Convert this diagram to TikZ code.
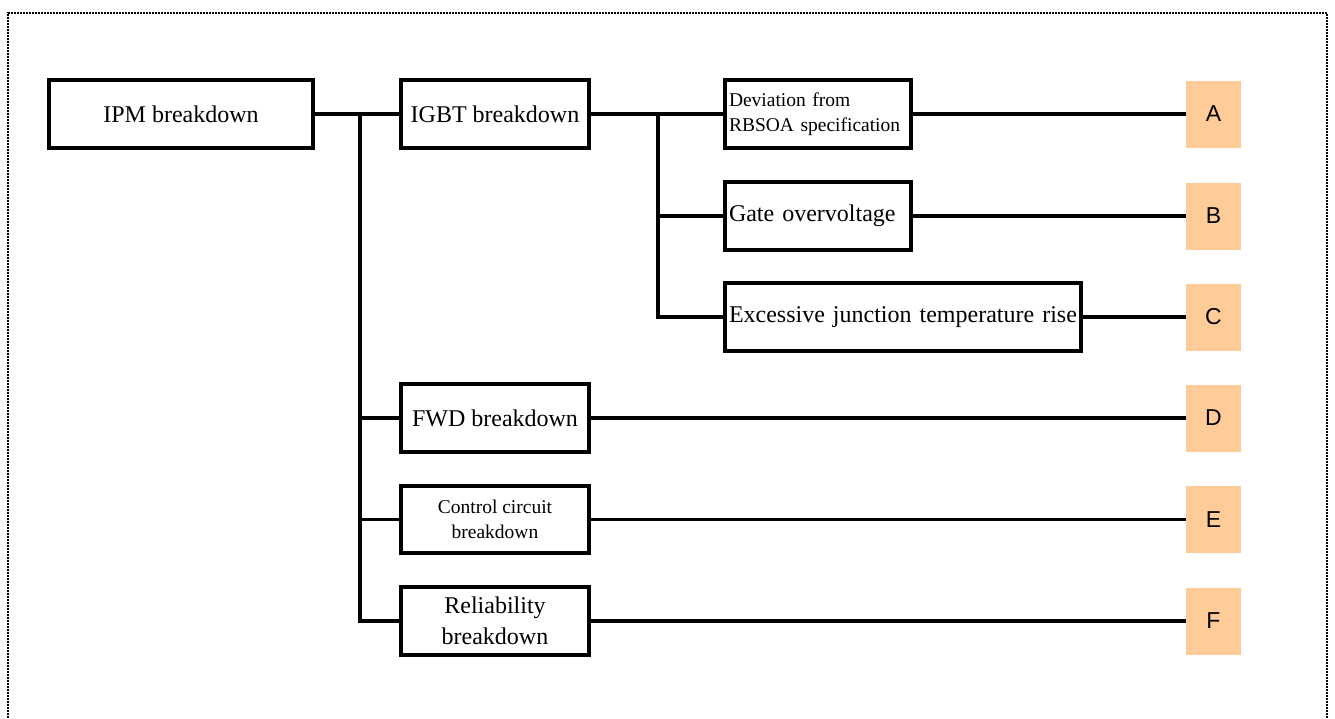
\documentclass[tikz,border=0pt]{standalone}
\usepackage{fontspec}
\setmainfont{Liberation Serif}
\newfontfamily\lsans{Liberation Sans}
\definecolor{peach}{RGB}{255,204,153}
\begin{document}
\begin{tikzpicture}[x=1pt,y=-1pt,
  box/.style={draw, line width=3.3pt, minimum height=68pt, inner sep=0pt, align=center, font=\fontsize{24}{30.7}\selectfont},
  leftbox/.style={draw, line width=3.3pt, minimum height=68pt, inner xsep=4pt, inner ysep=0pt, align=left},
  tag/.style={fill=peach, minimum width=55pt, minimum height=67pt, inner sep=0pt, font=\lsans\fontsize{23}{27}\selectfont},
  link/.style={line width=3.3pt, line join=miter},
  frame/.style={line width=2.5pt, dash pattern=on 2pt off 1pt}
]
\useasboundingbox (0,0) rectangle (1335,718);
\draw[frame] (8,718) -- (8,13) -- (1327,13) -- (1327,718);

\node[box, minimum width=264pt] (ipm) at (181,114) {IPM breakdown};
\node[box, minimum width=188pt] (igbt) at (495,114) {IGBT breakdown};
\node[box, minimum width=188pt] (fwd) at (495,418) {FWD breakdown};
\node[box, minimum width=188pt, minimum height=67pt, font=\fontsize{19.5}{24.5}\selectfont] (ctrl) at (495,519.5) {Control circuit\\breakdown};
\node[box, minimum width=188pt] (rel) at (495,621) {Reliability\\breakdown};

\node[leftbox, text width=178pt, font=\fontsize{19.5}{25}\selectfont] (dev) at (818,114) {Deviation from\\RBSOA specification};
\node[leftbox, text width=178pt, font=\fontsize{24}{30.7}\selectfont] (gate) at (818,216) {Gate overvoltage};
\node[leftbox, text width=348pt, font=\fontsize{24}{30.7}\selectfont] (exc) at (903,317) {Excessive junction temperature rise};

\node[tag] (A) at (1213.5,114) {A};
\node[tag] (B) at (1213.5,216) {B};
\node[tag] (C) at (1213.5,317) {C};
\node[tag] (D) at (1213.5,418) {D};
\node[tag] (E) at (1213.5,519.5) {E};
\node[tag] (F) at (1213.5,621) {F};

\coordinate (t0) at (360,114);
\coordinate (s0) at (658,114);

\draw[link] (ipm.east) -- (igbt.west);
\draw[link] (t0) |- (rel.west);
\draw[link] (t0) |- (fwd.west);
\draw[link] (t0) |- (ctrl.west);
\draw[link] (igbt.east) -- (dev.west);
\draw[link] (s0) |- (exc.west);
\draw[link] (s0) |- (gate.west);

\draw[link] (dev.east) -- (A.west);
\draw[link] (gate.east) -- (B.west);
\draw[link] (exc.east) -- (C.west);
\draw[link] (fwd.east) -- (D.west);
\draw[link] (ctrl.east) -- (E.west);
\draw[link] (rel.east) -- (F.west);
\end{tikzpicture}
\end{document}
